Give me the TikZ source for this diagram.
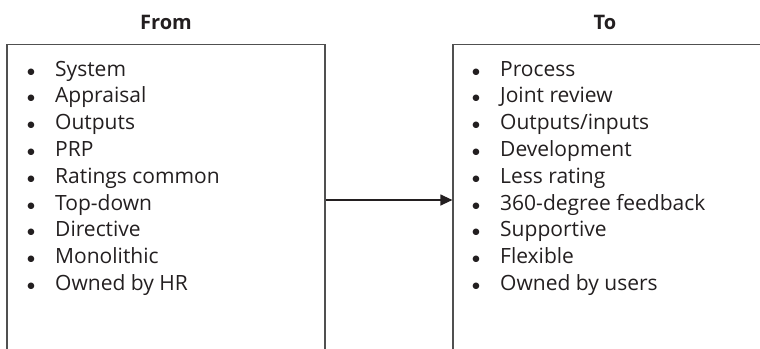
\documentclass[tikz,border=0pt]{standalone}
\usepackage{fontspec}
\setmainfont{Open Sans}
\newfontfamily\symfont{DejaVu Sans}
\usetikzlibrary{arrows.meta}
\definecolor{linegray}{HTML}{505050}
\definecolor{txt}{HTML}{231F20}
\newcommand{\bulletmark}{\makebox[28pt]{\raisebox{2pt}{\symfont\fontsize{8.5}{10}\selectfont ●}}}
\tikzset{
  box/.style={draw=linegray, line width=1.2pt, rectangle, inner sep=0pt, minimum height=311pt},
  title/.style={font=\fontsize{20}{24}\selectfont\bfseries, text=txt, anchor=base, inner sep=0pt},
  item/.style={font=\fontsize{21}{25}\selectfont, text=txt, anchor=base west, inner sep=0pt,
    text height=16pt, text depth=5pt},
  conn/.style={draw=txt, line width=1.2pt, -{Triangle[length=12pt,width=11pt]}}
}
\begin{document}
\begin{tikzpicture}[x=1pt,y=-1pt]
\useasboundingbox (0,0) rectangle (760,348);
\node[box, minimum width=318pt] (L) at (166,200) {};
\node[box, minimum width=320pt] (R) at (613,200) {};
\node[title] (tf) at (166,29) {From};
\node[title] (tt) at (605,29) {To};
\foreach \t [count=\i] in {System, Appraisal, Outputs, PRP, Ratings common, Top-down, Directive, Monolithic, Owned by HR}
  \node[item] (a\i) at (17,{76+26.8*(\i-1)}) {\bulletmark\hspace{10pt}\t};
\foreach \t [count=\i] in {Process, Joint review, Outputs/inputs, Development, Less rating, 360-degree feedback, Supportive, Flexible, Owned by users}
  \node[item] (b\i) at (462,{76+26.8*(\i-1)}) {\bulletmark\hspace{10pt}\t};
\draw[conn] (L.east) -- (R.west);
\end{tikzpicture}
\end{document}
